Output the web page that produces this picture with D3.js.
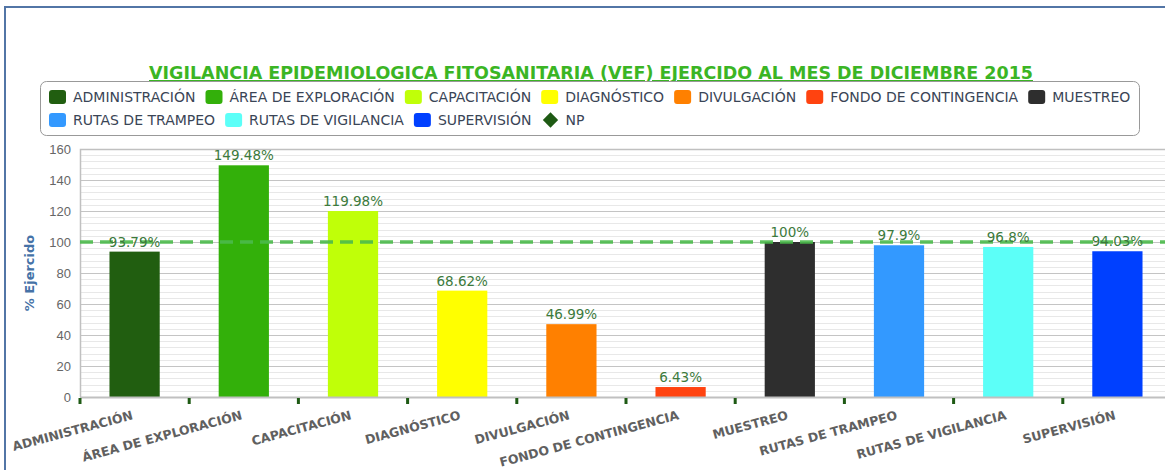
<!DOCTYPE html>
<html>
<head>
<meta charset="utf-8">
<script src="https://cdn.jsdelivr.net/npm/d3@7"></script>
<style>
  html, body { margin: 0; padding: 0; background: #fff; }
  svg { display: block; font-family: "DejaVu Sans", Verdana, sans-serif; }
</style>
</head>
<body>
<div id="chart"></div>
<script>
var categories = ['ADMINISTRACIÓN', 'ÁREA DE EXPLORACIÓN', 'CAPACITACIÓN', 'DIAGNÓSTICO', 'DIVULGACIÓN',
    'FONDO DE CONTINGENCIA', 'MUESTREO', 'RUTAS DE TRAMPEO', 'RUTAS DE VIGILANCIA', 'SUPERVISIÓN'];
var values = [93.79, 149.48, 119.98, 68.62, 46.99, 6.43, 100, 97.9, 96.8, 94.03];
var valueLabels = ['93.79%', '149.48%', '119.98%', '68.62%', '46.99%', '6.43%', '100%', '97.9%', '96.8%', '94.03%'];
var colors = ['#215e10', '#33b00a', '#c0ff08', '#ffff00', '#ff8000', '#ff4310', '#2e2e2e', '#3399ff', '#5cfff8', '#0040ff'];
var yTicks = [0, 20, 40, 60, 80, 100, 120, 140, 160];
var target = 100;
var npLabel = 'NP';
var npColor = '#1e5a14';

var W = 1165, H = 470;
var margin = { top: 149, right: -7, bottom: 73, left: 80 };
var width = W - margin.left - margin.right;
var height = H - margin.top - margin.bottom;

var svg = d3.select('#chart').append('svg')
    .attr('width', W)
    .attr('height', H);

// marco exterior
svg.append('path')
    .attr('d', 'M5,' + H + 'V7H' + W)
    .attr('fill', 'none')
    .attr('stroke', '#5275a6')
    .attr('stroke-width', 2);

// Titulo
svg.append('text')
    .attr('x', 591)
    .attr('y', 79)
    .attr('text-anchor', 'middle')
    .style('font-size', '17.5px')
    .style('font-weight', 'bold')
    .style('fill', '#3bb524')
    .style('text-decoration', 'underline')
    .text('VIGILANCIA EPIDEMIOLOGICA FITOSANITARIA (VEF) EJERCIDO AL MES DE DICIEMBRE 2015');

// Leyenda
var legend = svg.append('g');
legend.append('rect')
    .attr('x', 40.5).attr('y', 81.5)
    .attr('width', 1099).attr('height', 54)
    .attr('rx', 6)
    .attr('fill', '#fff')
    .attr('stroke', '#999');

var legendItems = categories.map(function (c, i) { return { name: c, color: colors[i], shape: 'rect' }; });
legendItems.push({ name: npLabel, color: npColor, shape: 'diamond' });

var lx = 49, ly = 97, rowH = 23, maxX = 1137;
legendItems.forEach(function (d) {
    var item = legend.append('g');
    if (d.shape === 'rect') {
        item.append('rect')
            .attr('x', 0).attr('y', -7)
            .attr('width', 17).attr('height', 14)
            .attr('rx', 3)
            .attr('fill', d.color);
    } else {
        item.append('path')
            .attr('d', d3.symbol().type(d3.symbolDiamond2).size(150)())
            .attr('transform', 'translate(9,0)')
            .attr('fill', d.color);
    }
    var t = item.append('text')
        .attr('x', 24).attr('y', 5)
        .style('font-size', '14px')
        .style('fill', '#3a4556')
        .text(d.name);
    var w = 24 + t.node().getComputedTextLength() + 10;
    if (lx + w - 10 > maxX) { lx = 49; ly += rowH; }
    item.attr('transform', 'translate(' + lx + ',' + ly + ')');
    lx += w;
});

var g = svg.append('g')
    .attr('transform', 'translate(' + margin.left + ',' + margin.top + ')');

var x = d3.scaleBand()
    .domain(categories)
    .range([0, width])
    .paddingInner(0.54)
    .paddingOuter(0.27);

var y = d3.scaleLinear()
    .domain([0, 160])
    .range([height, 0]);

// rejilla menor
g.append('g')
    .selectAll('line')
    .data(d3.range(0, 161, 4).filter(function (v) { return v % 20 !== 0; }))
    .enter().append('line')
    .attr('x1', 0).attr('x2', width)
    .attr('y1', function (d) { return Math.round(y(d)) + 0.5; })
    .attr('y2', function (d) { return Math.round(y(d)) + 0.5; })
    .attr('stroke', '#e8e8e8');

// rejilla mayor + eje Y
var yAxis = g.append('g')
    .call(d3.axisLeft(y).tickValues(yTicks).tickSize(-width).tickPadding(9));
yAxis.select('.domain').remove();
yAxis.selectAll('.tick line').attr('stroke', '#c4c4c4');
yAxis.selectAll('.tick text')
    .style('font-size', '13px')
    .style('fill', '#666')
    .attr('font-family', null);

// borde del area
g.append('path')
    .attr('d', 'M0.5,' + height + 'V0.5H' + width)
    .attr('fill', 'none')
    .attr('stroke', '#c0c0c0')
    .attr('stroke-width', 1.5);

// Barras
g.selectAll('.bar')
    .data(values)
    .enter().append('rect')
    .attr('class', 'bar')
    .attr('x', function (d, i) { return x(categories[i]); })
    .attr('y', function (d) { return y(d); })
    .attr('width', x.bandwidth())
    .attr('height', function (d) { return height - y(d); })
    .attr('fill', function (d, i) { return colors[i]; });

// eje X
g.append('line')
    .attr('x1', 0).attr('x2', width)
    .attr('y1', height + 0.5).attr('y2', height + 0.5)
    .attr('stroke', '#c0c0c0')
    .attr('stroke-width', 2);

var step = x.step();
g.selectAll('.xtick')
    .data(categories)
    .enter().append('rect')
    .attr('class', 'xtick')
    .attr('x', function (d) { return x(d) - x.paddingInner() * step / 2 - 1.5; })
    .attr('y', height + 1)
    .attr('width', 3)
    .attr('height', 6)
    .attr('fill', '#1e5a14');

g.selectAll('.xlabel')
    .data(categories)
    .enter().append('text')
    .attr('class', 'xlabel')
    .attr('text-anchor', 'end')
    .attr('transform', function (d) {
        return 'translate(' + (x(d) + x.bandwidth() / 2 - 1) + ',' + (height + 22) + ')rotate(-15)';
    })
    .style('font-size', '12.5px')
    .style('font-weight', 'bold')
    .style('fill', '#606060')
    .text(function (d) { return d; });

// linea meta 100%
g.append('line')
    .attr('x1', 0).attr('x2', width)
    .attr('y1', y(target)).attr('y2', y(target))
    .attr('stroke', '#4cbb4c')
    .attr('stroke-width', 3.5)
    .attr('stroke-dasharray', '13,7')
    .attr('opacity', 0.9);

// etiquetas de valor
g.selectAll('.vlabel')
    .data(values)
    .enter().append('text')
    .attr('class', 'vlabel')
    .attr('text-anchor', 'middle')
    .attr('x', function (d, i) { return x(categories[i]) + x.bandwidth() / 2; })
    .attr('y', function (d) { return y(d) - 5; })
    .style('font-size', '13.5px')
    .style('fill', '#3c7a3c')
    .text(function (d, i) { return valueLabels[i]; });

// titulo eje Y
svg.append('text')
    .attr('text-anchor', 'middle')
    .attr('transform', 'translate(34,' + (margin.top + height / 2) + ')rotate(-90)')
    .style('font-size', '13px')
    .style('font-weight', 'bold')
    .style('fill', '#4572a7')
    .text('% Ejercido');
</script>
</body>
</html>
